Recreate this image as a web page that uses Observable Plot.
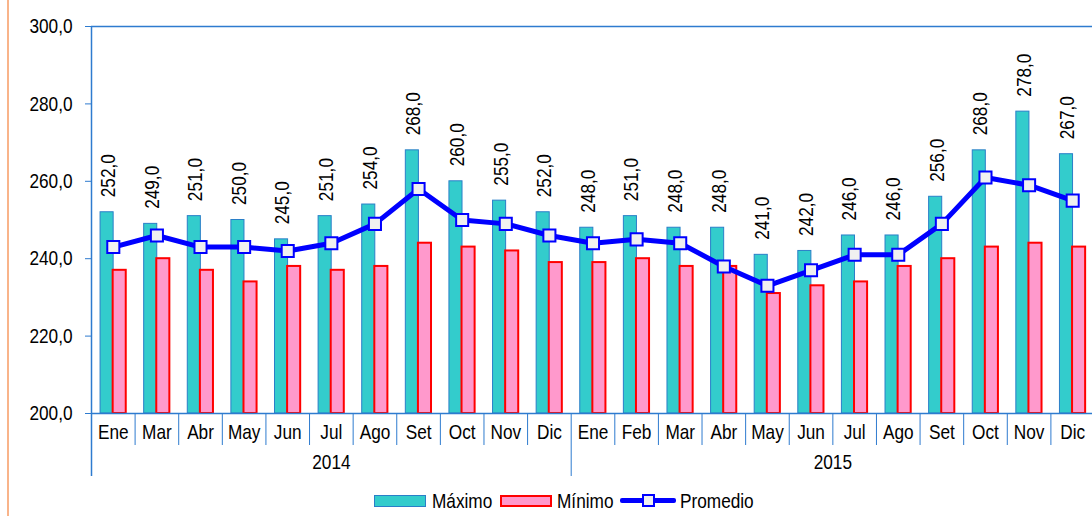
<!DOCTYPE html>
<html>
<head>
<meta charset="utf-8">
<script src="https://cdn.jsdelivr.net/npm/d3@7"></script>
<script src="https://cdn.jsdelivr.net/npm/@observablehq/plot@0.6"></script>
<style>
  html, body { margin: 0; padding: 0; background: #fff; }
  #wrap { position: relative; width: 1092px; height: 516px; overflow: hidden;
          font-family: "Liberation Sans", Arial, sans-serif; }
  #edge { position: absolute; left: 7px; top: 0; width: 2px; height: 516px; background: #f9b48a; }
  .lg { position: absolute; box-sizing: border-box; }
  .lt { position: absolute; top: 488px; font-size: 21px; line-height: 26px; white-space: nowrap;
        transform: scaleX(0.82); transform-origin: left center; color: #000; }
</style>
</head>
<body>
<div id="wrap">
  <div id="chart"></div>
  <div id="edge"></div>
  <div class="lg" style="left:374px;top:495px;width:52px;height:12px;background:#33cccc;border:1px solid #2a7fc8"></div>
  <div class="lt" style="left:432px">Máximo</div>
  <div class="lg" style="left:500px;top:495px;width:52px;height:12px;background:#ff99cc;border:2px solid #ff0000"></div>
  <div class="lt" style="left:557px">Mínimo</div>
  <div class="lg" style="left:620px;top:498px;width:56px;height:5px;background:#0000ff;border-radius:2px"></div>
  <div class="lg" style="left:642px;top:494px;width:13px;height:13px;background:#f0f0f0;border:2px solid #0000ff"></div>
  <div class="lt" style="left:680px">Promedio</div>
</div>
<script>
// ---- data ----
const years = ["2014", "2015"];
const months2014 = ["Ene","Mar","Abr","May","Jun","Jul","Ago","Set","Oct","Nov","Dic"];
const months2015 = ["Ene","Feb","Mar","Abr","May","Jun","Jul","Ago","Set","Oct","Nov","Dic"];
const maximo2014 = [252,249,251,250,245,251,254,268,260,255,252];
const maximo2015 = [248,251,248,248,241,242,246,246,256,268,278,267];
const minimo2014 = [237,240,237,234,238,237,238,244,243,242,239];
const minimo2015 = [239,240,238,238,231,233,234,238,240,243,244,243];
const promedio2014 = [243,246,243,243,242,244,249,258,250,249,246];
const promedio2015 = [244,245,244,238,233,237,241,241,249,261,259,255];
const yTicks = [200,220,240,260,280,300];
const seriesNames = ["Máximo","Mínimo","Promedio"];

// ---- table ----
const rows = [];
[[years[0], months2014, maximo2014, minimo2014, promedio2014],
 [years[1], months2015, maximo2015, minimo2015, promedio2015]].forEach(([yr, ms, mx, mn, av]) => {
  ms.forEach((m, i) => rows.push({key: yr + "-" + m, month: m, year: yr, max: mx[i], min: mn[i], avg: av[i]}));
});
const keys = rows.map(d => d.key);

// ---- layout ----
const W = 1092, H = 487, mL = 91, mR = -2, mT = 26, mB = 74;
const step = (W - mL - mR) / keys.length;
const yMin = yTicks[0], yMax = yTicks[yTicks.length - 1];
const unitPerPx = (yMax - yMin) / (H - mT - mB);
const monthSepEnd = yMin - 32 * unitPerPx;
const yearSepEnd = yMin - 63 * unitPerPx;
const blue = "#2e7bcf";
const FS = 21;
const fmt = v => v.toFixed(1).replace(".", ",");
const firstOf = yr => rows.find(d => d.year === yr).key;

const chart = Plot.plot({
  width: W, height: H,
  marginLeft: mL, marginRight: mR, marginTop: mT, marginBottom: mB,
  style: {fontFamily: '"Liberation Sans", Arial, sans-serif', fontSize: FS + "px", color: "#000", background: "transparent", overflow: "hidden"},
  x: {type: "band", domain: keys, paddingInner: 0.7, paddingOuter: 0.35, round: false},
  y: {domain: [yMin, yMax]},
  marks: [
    Plot.ruleY([yMax], {stroke: blue, strokeWidth: 1.5}),
    Plot.barY(rows, {x: "key", y1: yMin, y2: "max", fill: "#33cccc", stroke: "#2a7fc8", strokeWidth: 1, dx: -6.2}),
    Plot.barY(rows, {x: "key", y1: yMin, y2: "min", fill: "#ff99cc", stroke: "#ff0000", strokeWidth: 2, dx: 6.4}),
    Plot.ruleY([yMin], {stroke: blue, strokeWidth: 1.5}),
    Plot.ruleX([keys[0]], {dx: -step / 2, y1: yMax, y2: yearSepEnd, stroke: blue, strokeWidth: 1.5}),
    Plot.ruleX(keys.slice(1).filter(k => k !== firstOf(years[1])), {dx: -step / 2, y1: yMin, y2: monthSepEnd, stroke: blue, strokeWidth: 1}),
    Plot.ruleX([firstOf(years[1])], {dx: -step / 2, y1: yMin, y2: yearSepEnd, stroke: blue, strokeWidth: 1}),
    Plot.line(rows, {x: "key", y: "avg", stroke: "#0000ff", strokeWidth: 5}),
    Plot.dot(rows, {x: "key", y: "avg", symbol: "square", r: 6.8, fill: "#f0f0f0", stroke: "#0000ff", strokeWidth: 2}),
    Plot.text(rows, {x: "key", y: "max", text: d => fmt(d.max), rotate: -90, textAnchor: "start", dx: -5, dy: -15, fontSize: FS, fill: "#000"}),
    Plot.axisY({ticks: yTicks, tickFormat: fmt, tickSize: 6, tickPadding: 13, stroke: blue, fill: "#000", fontSize: FS}),
    Plot.axisX({tickSize: 0, tickPadding: 11, tickFormat: k => k.split("-")[1], fontSize: FS, fill: "#000", label: null}),
    Plot.text([years[0]], {x: () => years[0] + "-Jul", text: d => d, frameAnchor: "bottom", dy: 55, fontSize: FS, fill: "#000"}),
    Plot.text([years[1]], {x: () => years[1] + "-Jul", text: d => d, frameAnchor: "bottom", dy: 55, dx: -step / 2, fontSize: FS, fill: "#000"})
  ]
});
document.getElementById("chart").appendChild(chart);
// condense glyphs horizontally (narrow font look), keeping each text's anchor point
chart.querySelectorAll("text").forEach(t => {
  const len = t.getComputedTextLength();
  if (!(len > 0)) return;
  const anchor = getComputedStyle(t).textAnchor || "start";
  const b0 = t.getBBox();
  t.setAttribute("textLength", (len * 0.82).toFixed(2));
  t.setAttribute("lengthAdjust", "spacingAndGlyphs");
  const b1 = t.getBBox();
  let shift;
  if (anchor === "middle") shift = (b0.x + b0.width / 2) - (b1.x + b1.width / 2);
  else if (anchor === "end") shift = (b0.x + b0.width) - (b1.x + b1.width);
  else shift = b0.x - b1.x;
  if (Math.abs(shift) > 0.01) {
    const prev = parseFloat(t.getAttribute("dx")) || 0;
    t.setAttribute("dx", (prev + shift).toFixed(2));
  }
});
</script>
</body>
</html>
